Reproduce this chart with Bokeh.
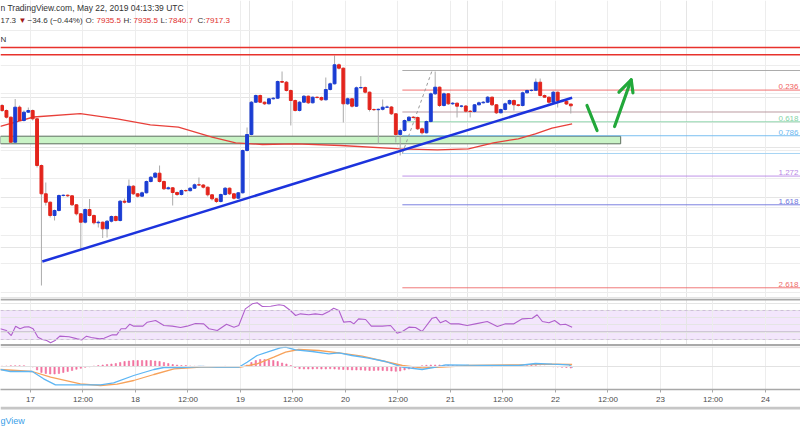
from bokeh.plotting import figure
from bokeh.layouts import column
from bokeh.models import (Range1d, FixedTicker, Grid, Span, Label, ColumnDataSource)
from bokeh.embed import file_html
from bokeh.resources import INLINE

# ---------------- data ----------------
tick_hours = [0, 12, 24, 36, 48, 60, 72, 84, 96, 108, 120, 132, 144, 156, 168]
tick_labels = ["17", "12:00", "18", "12:00", "19", "12:00", "20", "12:00",
               "21", "12:00", "22", "12:00", "23", "12:00", "24"]

first_hour = -6.5          # hours after 17 May 00:00 UTC of the first hourly candle
first_open = 7920
closes = [7870, 7803, 7553, 7903, 7770, 7853, 7870, 7787, 7320, 7037,
          6953, 6820, 6870, 7020, 7023, 7017, 6927, 6837, 6753, 6880,
          6820, 6747, 6753, 6687, 6763, 6810, 6770, 6963, 6953, 7113,
          7037, 7013, 7047, 7160, 7203, 7243, 7160, 7087, 7097, 7050,
          7030, 7070, 7068, 7093, 7127, 7125, 7103, 7027, 6987, 6960,
          7030, 7093, 7037, 6993, 7047, 7470, 7630, 7953, 8020, 7953,
          7937, 7987, 7993, 8160, 8153, 8070, 7970, 7870, 7953, 8013,
          7947, 8003, 8000, 7977, 8080, 8137, 8327, 8293, 7937, 7987,
          7913, 8097, 8100, 8053, 7880, 7878, 7882, 7903, 7905, 7837,
          7630, 7670, 7770, 7803, 7800, 7687, 7647, 7760, 8037, 8103,
          7920, 8037, 7937, 7943, 7913, 7915, 7863, 7860, 7927, 7947,
          7953, 8003, 7927, 7847, 7880, 7937, 7970, 7927, 7920, 8047,
          8070, 8072, 8153, 8020, 8003, 7953, 8053, 7970, 7963, 7935,
          7917]
highs = [7935, 7880, 7810, 7985, 7920, 7870, 7900, 7880, 7795, 7330,
         7150, 6960, 6880, 7030, 7030, 7030, 7025, 6935, 6845, 6890,
         6985, 6830, 6770, 6760, 6775, 6820, 6820, 6975, 6990, 7180,
         7125, 7045, 7060, 7170, 7215, 7255, 7320, 7170, 7110, 7105,
         7060, 7080, 7080, 7105, 7140, 7200, 7135, 7110, 7035, 6995,
         7040, 7105, 7100, 7045, 7055, 7480, 7700, 7965, 8030, 8030,
         7960, 7995, 8005, 8170, 8260, 8165, 8080, 7980, 7965, 8025,
         8020, 8010, 8010, 8010, 8200, 8150, 8420, 8340, 8300, 8000,
         7995, 8110, 8213, 8110, 8060, 7890, 7890, 7980, 7920, 7915,
         7845, 7690, 7780, 7815, 7815, 7810, 7700, 7770, 8050, 8260,
         8110, 8050, 8045, 7955, 7950, 7925, 7925, 7875, 7935, 7960,
         7965, 8015, 8010, 7935, 7890, 7950, 7980, 7980, 7935, 8060,
         8080, 8085, 8190, 8190, 8030, 8010, 8065, 8060, 7980, 7975,
         7935]
lows = [7855, 7790, 7540, 7545, 7760, 7760, 7845, 7770, 7300, 6120,
        6920, 6800, 6770, 6860, 7010, 7005, 6915, 6820, 6487, 6740,
        6810, 6730, 6700, 6595, 6600, 6750, 6760, 6760, 6940, 6945,
        7025, 7000, 7005, 7040, 7150, 7195, 7150, 7075, 7080, 6920,
        7015, 7020, 7055, 7060, 7085, 7115, 7090, 7010, 6970, 6945,
        6950, 7020, 7025, 6980, 6985, 7040, 7460, 7620, 7945, 7945,
        7925, 7930, 7980, 7985, 8145, 8060, 7720, 7860, 7860, 7945,
        7935, 7940, 7990, 7965, 7970, 8070, 8130, 8280, 7750, 7925,
        7900, 7905, 8090, 8040, 7860, 7865, 7540, 7870, 7895, 7825,
        7550, 7420, 7660, 7760, 7790, 7675, 7630, 7640, 7750, 8025,
        7905, 7910, 7925, 7925, 7800, 7900, 7850, 7800, 7850, 7920,
        7940, 7945, 7915, 7835, 7840, 7870, 7925, 7870, 7910, 7910,
        8040, 8060, 8065, 8010, 7995, 7940, 7945, 7900, 7950, 7925,
        7840]

ma_hours = [-6.9, 0.7, 11.4, 19.8, 27.4, 33.8, 41.5, 46.9, 53.0, 60.6,
            70.9, 84.6, 93.0, 100.1, 105.8, 111.5, 115.4, 119.2, 123.8]
ma_values = [7712, 7805, 7838, 7787, 7727, 7703, 7603, 7547, 7530, 7537,
             7520, 7487, 7477, 7487, 7547, 7587, 7637, 7693, 7737]

price_grid = [8670, 8320, 8037, 7753, 7470, 7187, 6903, 6620, 6337, 6053]
resistance_levels = [8500, 8427]
zone_start, zone_end = -6.9, 134.9
zone_low, zone_high = 7537, 7613

trend_hours = [2.7, 123.8]
trend_prices = [6360, 7997]

fib_low_hour, fib_low_price = 85.0, 7440
fib_high_hour, fib_high_price = 91.8, 8270
fib_levels = [0, 0.236, 0.5, 0.618, 0.786, 1, 1.272, 1.618, 2.618]
fib_texts = ["", "0.236", "", "0.618", "0.786", "", "1.272", "1.618", "2.618"]
fib_colors = ["#a3a3a3", "#f06262", "#b38f96", "#86d3a6", "#6cb8f0",
              "#9fd0f3", "#b888e6", "#6f74dd", "#ee6a6a"]

arrow_down_hours = [127.2, 129.5]
arrow_down_prices = [7920, 7670]
arrow_up_hours = [133.5, 137.3]
arrow_up_prices = [7710, 8177]
arrow_head_hours = [134.5, 137.3, 137.7]
arrow_head_prices = [8053, 8177, 8047]

rsi_hours = [-6.9, -5.5, -4.4, -3.4, -2.4, -1.5, -0.4, 0.6, 1.7, 2.7,
             3.7, 4.6, 5.6, 6.7, 8.8, 10.7, 11.7, 12.8, 13.9, 15.8,
             16.8, 18.7, 19.7, 20.7, 21.7, 22.7, 23.6, 25.7, 26.7, 28.6,
             30.5, 32.4, 34.3, 35.8, 37.7, 39.6, 40.8, 42.7, 44.8, 46.5,
             47.6, 49.1, 50.7, 51.8, 53.0, 54.9, 56.8, 57.9, 59.4, 60.6,
             61.7, 63.6, 65.1, 66.7, 68.2, 69.3, 70.5, 71.6, 73.1, 73.9,
             75.0, 76.6, 77.9, 80.4, 82.3, 83.8, 85.0, 86.5, 88.0, 89.5,
             91.8, 92.7, 93.7, 94.9, 96.0, 97.9, 99.8, 101.7, 104.4, 106.7,
             108.6, 110.5, 112.4, 114.7, 115.8, 117.0, 118.5, 119.8, 121.1, 122.3,
             123.8]
rsi_values = [44.8, 42.4, 35.5, 48.4, 44.8, 47.0, 47.5, 44.8, 33.2, 30.0,
              28.6, 25.4, 28.6, 34.6, 33.7, 30.9, 29.5, 34.6, 32.8, 30.9,
              31.8, 36.4, 36.4, 44.8, 44.8, 51.1, 48.4, 48.4, 53.9, 56.2,
              49.3, 48.4, 46.6, 48.4, 52.1, 51.6, 44.8, 42.4, 51.1, 47.0,
              49.3, 72.3, 79.2, 80.6, 75.5, 75.9, 77.9, 76.9, 70.0, 63.1,
              65.4, 64.1, 65.4, 64.1, 68.6, 73.2, 70.0, 53.9, 54.8, 51.6,
              58.5, 57.6, 48.4, 48.4, 49.3, 38.7, 41.0, 47.0, 46.6, 41.0,
              59.4, 60.8, 53.0, 56.2, 51.6, 51.6, 49.3, 51.6, 54.8, 47.9,
              51.6, 51.6, 58.5, 59.4, 64.1, 54.8, 53.0, 56.2, 50.3, 51.1,
              47.0]
rsi_upper, rsi_lower, rsi_mid = 70, 30, 41

macd_hours = [-6.9, -4.6, 0.4, 3.0, 5.7, 11.4, 16.0, 19.0, 23.6, 28.2,
              30.5, 34.3, 38.9, 42.7, 47.6, 49.5, 51.8, 54.1, 57.1, 58.3,
              60.6, 64.4, 68.2, 70.5, 73.5, 77.3, 81.1, 85.0, 89.5, 92.6,
              94.9, 100.2, 107.0, 111.6, 115.4, 119.2, 123.0, 124.0]
macd_values = [-30, -50, -50, -123, -183, -183, -183, -163, -90, -30,
               -10, -10, 0, -7, -7, 43, 110, 143, 187, 193,
               167, 150, 127, 137, 110, 83, 50, -7, -30, -7,
               17, 13, 10, 10, 30, 23, 17, -7]
signal_hours = [-6.9, 0.4, 4.6, 11.4, 16.0, 19.8, 23.6, 28.2, 32.8, 38.9,
                48.0, 51.8, 55.6, 58.3, 61.3, 65.9, 70.5, 75.8, 81.1, 85.0,
                89.5, 94.1, 100.2, 111.6, 119.2, 123.8]
signal_values = [-30, -50, -107, -173, -190, -177, -140, -80, -23, -7,
                 -7, 27, 93, 143, 170, 160, 137, 103, 50, 10,
                 -13, -7, 10, 17, 23, 20]
hist_values = [3, 5, 8, 8, 8, 8,
               0, -5,
               -35, -60, -70, -75, -75, -70, -60, -50, -40, -28, -18, -8, -3,
               5, 10, 15, 20, 25, 30, 40, 50, 55, 60, 60, 60, 60, 60, 55, 50, 40, 30, 20, 15, 10, 10, 5,
               3, 2, 2, 0, 0, -2, 0, 2, 0, 0, -2, 0,
               15, 40, 60, 70, 70, 65, 60, 50, 35, 25, 10,
               -10,
               -22, -25, -25, -25, -22, -25, -25, -22, -25,
               -28, -30, -32, -35, -35, -35, -38, -40, -40, -38, -40, -42,
               -45, -48, -45,
               -35, -25, -15, -5,
               8, 12, 15, 15, 15, 12, 12, 10, 8,
               5, 3, 2, 2, 0, 0, 0, -2, 0, 2, 2, 0, 0, 0,
               5, 8, 10, 8, 5, 3, 0, -3, -5, -8, -10, -15]

header_line1 = "n TradingView.com, May 22, 2019 04:13:39 UTC"
header_parts = [("17.3", "#333333"), ("\u25bc", "#a31818"), ("\u221234.6 (\u22120.44%)", "#333333"),
                ("O:", "#333333"), ("7935.5", "#e0302c"), ("H:", "#333333"), ("7935.5", "#e0302c"),
                ("L:", "#333333"), ("7840.7", "#e0302c"), ("C:", "#333333"), ("7917.3", "#e0302c")]
header_line3 = "N"
footer_text = "gView"

# ---------------- styling / layout ----------------
W = 800
FONT = "Liberation Sans"
RED, BLUE = "#e3241c", "#1b3dd3"
GRID = "#ededed"

x_range = Range1d(-6.857, 176.0)


def base_fig(height, y_range):
    f = figure(width=W, height=height, x_range=x_range, y_range=y_range,
               output_backend="svg", toolbar_location=None, min_border=0,
               x_axis_location=None, y_axis_location=None,
               outline_line_color=None, background_fill_color="white",
               border_fill_color="white")
    f.add_layout(Grid(dimension=0, ticker=FixedTicker(ticks=tick_hours),
                      grid_line_color=GRID, grid_line_width=1))
    return f


# ---------- price pane ----------
price = base_fig(298, Range1d(5990, 8970))
price.add_layout(Grid(dimension=1, ticker=FixedTicker(ticks=price_grid),
                      grid_line_color=GRID, grid_line_width=1))

price.quad(left=[zone_start], right=[zone_end], bottom=[zone_low], top=[zone_high],
           fill_color="#c9f3c6", line_color="#5d6e5f", line_width=1)

fib_range = fib_high_price - fib_low_price
fib_prices = [fib_high_price - fib_range * lv for lv in fib_levels]
price.segment(x0=[fib_low_hour] * len(fib_prices), y0=fib_prices,
              x1=[x_range.end + 5] * len(fib_prices), y1=fib_prices,
              line_color=fib_colors, line_width=1, line_alpha=0.9)
price.line([fib_low_hour, fib_high_hour], [fib_low_price, fib_high_price],
           line_color="#9a9a9a", line_dash="3 3", line_width=1)
for fp, ft, fc in zip(fib_prices, fib_texts, fib_colors):
    if ft:
        price.add_layout(Label(x=798, x_units="screen", y=fp, text=ft, text_color=fc,
                               text_font=FONT, text_font_size="8px", text_baseline="bottom",
                               text_align="right", y_offset=1))

for lvl in resistance_levels:
    price.add_layout(Span(location=lvl, dimension="width", line_color="#e8322c", line_width=1.5))

price.line(ma_hours, ma_values, line_color="#e8403a", line_width=1.3)

opens = [first_open] + closes[:-1]
hours = [first_hour + i for i in range(len(closes))]
cs = ColumnDataSource(dict(
    x=hours, high=highs, low=lows,
    top=[max(o, c) for o, c in zip(opens, closes)],
    bot=[min(o, c) for o, c in zip(opens, closes)],
    color=[BLUE if c >= o else RED for o, c in zip(opens, closes)]))
price.segment(x0="x", y0="low", x1="x", y1="high", source=cs, line_color="#ababab", line_width=1)
price.vbar(x="x", width=0.66, top="top", bottom="bot", source=cs,
           fill_color="color", line_color="color", line_width=1)

price.line(trend_hours, trend_prices, line_color="#1c33dd", line_width=2.5)

GREEN = "#22a83a"
price.line(arrow_down_hours, arrow_down_prices, line_color=GREEN, line_width=3.2, line_cap="round")
price.line(arrow_up_hours, arrow_up_prices, line_color=GREEN, line_width=3.2, line_cap="round")
price.line(arrow_head_hours, arrow_head_prices, line_color=GREEN, line_width=3.2,
           line_cap="round", line_join="round")

price.add_layout(Label(x=0, x_units="screen", y=8900, text=header_line1, text_color="#333333",
                       text_font=FONT, text_font_size="8.5px", text_baseline="middle"))
part_x = [0, 18, 27, 85, 96, 123, 133, 160, 168, 197, 205]
for (txt, col), sx in zip(header_parts, part_x):
    price.add_layout(Label(x=sx, x_units="screen", y=8770, text=txt, text_color=col,
                           text_font=FONT, text_font_size="8px", text_baseline="middle"))
price.add_layout(Label(x=0, x_units="screen", y=8580, text=header_line3, text_color="#333333",
                       text_font=FONT, text_font_size="8px", text_baseline="middle"))

# ---------- RSI pane ----------
rsi = base_fig(48, Range1d(20.34, 86.55))
rsi.quad(left=[x_range.start - 5], right=[x_range.end + 5], bottom=[rsi_lower], top=[rsi_upper],
         fill_color="#f3e6fc", line_color=None, level="underlay")
for lv in (rsi_upper, rsi_lower):
    rsi.add_layout(Span(location=lv, dimension="width", line_color="#cdbfd8",
                        line_dash="3 3", line_width=1))
rsi.add_layout(Span(location=rsi_mid, dimension="width", line_color="#cfc6d6", line_width=1))
rsi.line(rsi_hours, rsi_values, line_color="#b060cc", line_width=1.1)
rsi.add_layout(Span(location=85.2, dimension="width", line_color="#a9a9a9", line_width=2))
rsi.add_layout(Span(location=22.4, dimension="width", line_color="#a9a9a9", line_width=2))

# ---------- MACD pane ----------
macd = figure(frame_width=W, frame_height=43, x_range=x_range, y_range=Range1d(-230, 200),
              output_backend="svg", toolbar_location=None, min_border=0,
              x_axis_location="below", y_axis_location=None,
              outline_line_color=None, background_fill_color="white",
              border_fill_color="white")
macd.xgrid.ticker = FixedTicker(ticks=tick_hours)
macd.xgrid.grid_line_color = GRID
macd.ygrid.visible = False
ax = macd.xaxis[0]
ax.ticker = FixedTicker(ticks=tick_hours)
ax.major_label_overrides = {h: l for h, l in zip(tick_hours, tick_labels)}
ax.major_label_text_font = FONT
ax.major_label_text_font_size = "8px"
ax.major_label_text_color = "#4a4a4a"
ax.axis_line_color = "#a8a8a8"
ax.axis_line_width = 1.5
ax.major_tick_line_color = "#a8a8a8"
ax.major_tick_out = 3
ax.major_tick_in = 0
ax.minor_tick_line_color = None
ax.major_label_standoff = 2

macd.add_layout(Span(location=0, dimension="width", line_color="#e2e2e2", line_width=1))
macd.add_layout(Span(location=195, dimension="width", line_color="#d2d2d2", line_width=1))
macd.vbar(x=hours, width=0.3, top=hist_values, bottom=0, fill_color="#f2709e",
          line_color="#f2709e", line_width=0.6)
macd.line(signal_hours, signal_values, line_color="#f7a25a", line_width=1.3)
macd.line(macd_hours, macd_values, line_color="#5db6f4", line_width=1.3)

# ---------- footer ----------
foot = figure(width=W, height=25, x_range=x_range, y_range=Range1d(0, 25),
              output_backend="svg", toolbar_location=None, min_border=0,
              x_axis_location=None, y_axis_location=None,
              outline_line_color=None, background_fill_color="white",
              border_fill_color="white")
foot.xgrid.visible = False
foot.ygrid.visible = False
foot.add_layout(Span(location=23.5, dimension="width", line_color="#c6c6c6", line_width=3))
foot.add_layout(Label(x=0, x_units="screen", y=11, text=footer_text, text_color="#3aa0e8",
                      text_font=FONT, text_font_size="9px", text_baseline="middle"))

layout = column(price, rsi, macd, foot, spacing=0)
open("out.html", "w").write(file_html(layout, INLINE))
